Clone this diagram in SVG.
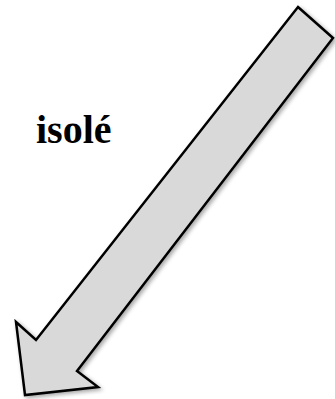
<svg xmlns="http://www.w3.org/2000/svg" width="335" height="399" viewBox="0 0 335 399">
<defs>
<filter id="sh" x="-10%" y="-10%" width="130%" height="130%">
<feGaussianBlur in="SourceAlpha" stdDeviation="2"/>
<feOffset dx="2" dy="2" result="b"/>
<feComponentTransfer><feFuncA type="linear" slope="0.35"/></feComponentTransfer>
<feMerge><feMergeNode/><feMergeNode in="SourceGraphic"/></feMerge>
</filter>
</defs>
<rect width="335" height="399" fill="#ffffff"/>
<g id="arrow">
<polygon points="298,7 333,38 77,371 98,387 25,395 16,322 36,340" fill="#d9d9d9" stroke="#000" stroke-width="2.5" stroke-linejoin="miter" filter="url(#sh)"/>
</g>
<g id="label">
<text x="36" y="143" font-family="'Liberation Serif', serif" font-weight="bold" font-size="40" fill="#000">isolé</text>
</g>
</svg>
